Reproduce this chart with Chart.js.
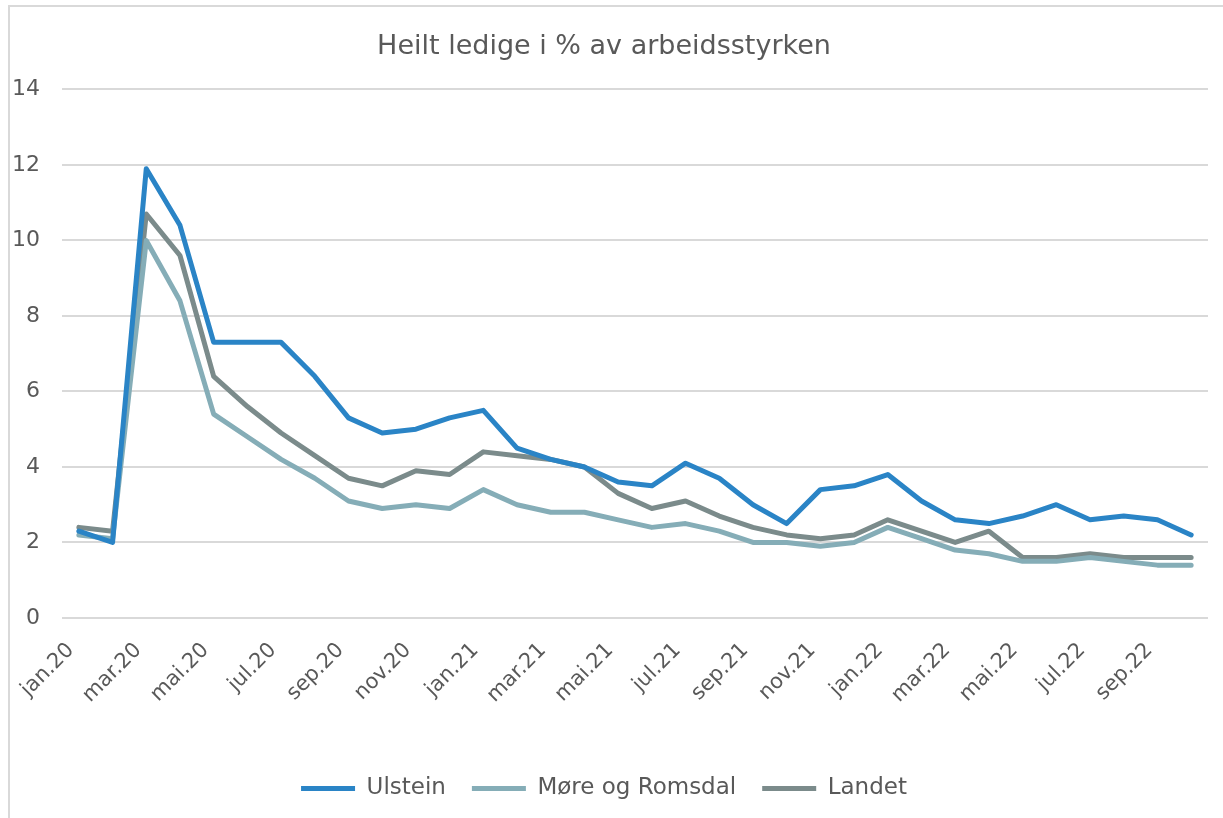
<!DOCTYPE html>
<html>
<head>
<meta charset="utf-8">
<script src="https://cdn.jsdelivr.net/npm/chart.js@4.4.0/dist/chart.umd.min.js"></script>
<style>
    body { margin: 0; background: #fff; }
    #wrap { position: relative; width: 1223px; height: 818px; overflow: hidden; }
    #frame { position: absolute; left: 8px; top: 5px; width: 1300px; height: 900px; border: 2px solid #d9d9d9; pointer-events: none; }
    canvas { position: absolute; left: 0; top: 0; }
</style>
</head>
<body>
<div id="wrap">
    <div id="frame"></div>
    <canvas id="chart" width="1223" height="818"></canvas>
</div>
<script>
const months = ['jan.20', 'feb.20', 'mar.20', 'apr.20', 'mai.20', 'jun.20', 'jul.20', 'aug.20', 'sep.20', 'okt.20', 'nov.20', 'des.20',
    'jan.21', 'feb.21', 'mar.21', 'apr.21', 'mai.21', 'jun.21', 'jul.21', 'aug.21', 'sep.21', 'okt.21', 'nov.21', 'des.21',
    'jan.22', 'feb.22', 'mar.22', 'apr.22', 'mai.22', 'jun.22', 'jul.22', 'aug.22', 'sep.22', 'okt.22'];

const ulstein = [2.3, 2.0, 11.9, 10.4, 7.3, 7.3, 7.3, 6.4, 5.3, 4.9, 5.0, 5.3,
    5.5, 4.5, 4.2, 4.0, 3.6, 3.5, 4.1, 3.7, 3.0, 2.5, 3.4, 3.5,
    3.8, 3.1, 2.6, 2.5, 2.7, 3.0, 2.6, 2.7, 2.6, 2.2];
const moreRomsdal = [2.2, 2.1, 10.0, 8.4, 5.4, 4.8, 4.2, 3.7, 3.1, 2.9, 3.0, 2.9,
    3.4, 3.0, 2.8, 2.8, 2.6, 2.4, 2.5, 2.3, 2.0, 2.0, 1.9, 2.0,
    2.4, 2.1, 1.8, 1.7, 1.5, 1.5, 1.6, 1.5, 1.4, 1.4];
const landet = [2.4, 2.3, 10.7, 9.6, 6.4, 5.6, 4.9, 4.3, 3.7, 3.5, 3.9, 3.8,
    4.4, 4.3, 4.2, 4.0, 3.3, 2.9, 3.1, 2.7, 2.4, 2.2, 2.1, 2.2,
    2.6, 2.3, 2.0, 2.3, 1.6, 1.6, 1.7, 1.6, 1.6, 1.6];

const yTicks = [0, 2, 4, 6, 8, 10, 12, 14];

const textColor = '#595959';
const fontFamily = '"DejaVu Sans", sans-serif';

function lineSet(label, data, color) {
    return {
        label: label,
        data: data,
        borderColor: color,
        backgroundColor: color,
        borderWidth: 5,
        borderCapStyle: 'round',
        borderJoinStyle: 'round',
        pointRadius: 0,
        pointHoverRadius: 0,
        pointStyle: 'line',
        tension: 0,
        fill: false
    };
}

new Chart(document.getElementById('chart'), {
    type: 'line',
    data: {
        labels: months,
        datasets: [
            lineSet('Ulstein', ulstein, '#2a84c6'),
            lineSet('Møre og Romsdal', moreRomsdal, '#85adb7'),
            lineSet('Landet', landet, '#7b8b8b')
        ]
    },
    options: {
        responsive: false,
        animation: false,
        events: [],
        layout: { padding: { left: 0, right: 15, top: 0, bottom: 8 } },
        plugins: {
            title: {
                display: true,
                text: 'Heilt ledige i % av arbeidsstyrken',
                color: textColor,
                font: { family: fontFamily, size: 27, weight: 'normal' },
                padding: { top: 31, bottom: 26 }
            },
            legend: {
                position: 'bottom',
                labels: {
                    color: textColor,
                    font: { family: fontFamily, size: 23 },
                    usePointStyle: true,
                    pointStyleWidth: 54,
                    padding: 26
                }
            },
            tooltip: { enabled: false }
        },
        scales: {
            x: {
                offset: true,
                grid: { display: false, drawTicks: false },
                border: { display: false },
                afterFit: s => { s.height = 133; s.paddingRight = 0; },
                ticks: {
                    autoSkip: false,
                    minRotation: 45,
                    maxRotation: 45,
                    padding: 20,
                    labelOffset: -8,
                    color: textColor,
                    font: { family: fontFamily, size: 21 },
                    callback: (v, i) => (i % 2 === 0 ? months[i] : '')
                }
            },
            y: {
                min: 0,
                max: 14,
                afterFit: s => { s.width = 62; },
                afterBuildTicks: s => { s.ticks = yTicks.map(v => ({ value: v })); },
                grid: { color: '#d9d9d9', lineWidth: 2, drawTicks: false },
                border: { display: false },
                ticks: {
                    padding: 22,
                    color: textColor,
                    font: { family: fontFamily, size: 22 }
                }
            }
        }
    }
});
</script>
</body>
</html>
